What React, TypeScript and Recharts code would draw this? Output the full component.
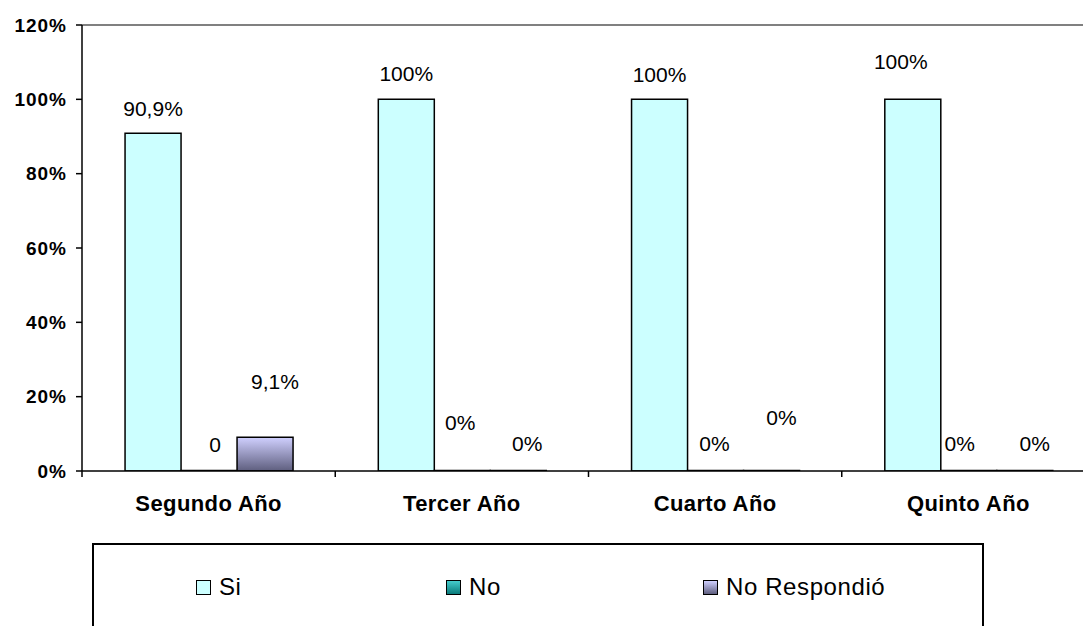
import React from "react";
import {
  BarChart,
  Bar,
  XAxis,
  YAxis,
  Legend,
  LabelList,
  ReferenceLine,
} from "recharts";

const CATEGORIES = ["Segundo Año", "Tercer Año", "Cuarto Año", "Quinto Año"];
const SI_VALUES = [90.9, 100, 100, 100];
const NO_VALUES = [0, 0, 0, 0];
const NR_VALUES = [9.1, 0, 0, 0];
const SI_LABELS = ["90,9%", "100%", "100%", "100%"];
const NO_LABELS = ["0", "0%", "0%", "0%"];
const NR_LABELS = ["9,1%", "0%", "0%", "0%"];
const Y_TICKS = [0, 20, 40, 60, 80, 100, 120];
const SERIES_NAMES = ["Si", "No", "No Respondió"];

// label nudges (style only): [dx, dy] from the bar top-centre
const SI_NUDGE = [[0, -25], [0, -25.5], [0, -25], [-12, -37.5]];
const NO_NUDGE = [[6, -26.5], [-2, -49], [-1, -28], [-9, -28]];
const NR_NUDGE = [[10, -56], [9, -28], [10, -54], [10, -28]];

const FONT = "'Liberation Sans', Arial, sans-serif";

const data = CATEGORIES.map((c, i) => ({
  name: c,
  si: SI_VALUES[i],
  no: NO_VALUES[i],
  nr: NR_VALUES[i],
}));

const makeLabel = (texts: string[], nudges: number[][]) => (props: any) => {
  const { x, y, width, height, index } = props;
  const n = nudges[index] || [0, 0];
  // anchor at the top of the bar (for zero bars: the baseline)
  const top = Number(height) < 2 ? Number(y) + Number(height) : Number(y);
  return (
    <text
      x={Number(x) + Number(width) / 2 + n[0]}
      y={top + n[1]}
      dy="0.358em"
      textAnchor="middle"
      fontFamily={FONT}
      fontSize={21}
      fill="#000"
    >
      {texts[index]}
    </text>
  );
};

const XTick = (props: any) => {
  const { x, y, payload, width, visibleTicksCount, index } = props;
  const band = Number(width) / Number(visibleTicksCount || CATEGORIES.length);
  const half = band / 2;
  return (
    <g>
      <line x1={x - half} x2={x - half} y1={y} y2={y + 6} stroke="#000" strokeWidth={1.5} />
      {index === visibleTicksCount - 1 ? (
        <line x1={x + half} x2={x + half} y1={y} y2={y + 6} stroke="#000" strokeWidth={1.5} />
      ) : null}
      <text
        x={x}
        y={y + 40}
        textAnchor="middle"
        fontFamily={FONT}
        fontSize={22}
        fontWeight="bold"
        letterSpacing={0.4}
        fill="#000"
      >
        {payload.value}
      </text>
    </g>
  );
};

const SWATCHES = [
  { bg: "#CCFFFF" },
  { bg: "linear-gradient(#44cccc, #0a7a7a)" },
  { bg: "linear-gradient(#d0d0ff, #5e5e7e)" },
];
const LEGEND_LEFT = [102, 352, 609];

const renderLegend = () => (
  <div
    style={{
      position: "relative",
      width: 892,
      height: 120,
      border: "2px solid #000",
      boxSizing: "border-box",
      background: "#fff",
    }}
  >
    {SERIES_NAMES.map((name, i) => (
      <div
        key={name}
        style={{
          position: "absolute",
          left: LEGEND_LEFT[i],
          top: 30,
          height: 24,
          display: "flex",
          alignItems: "center",
          gap: 8,
          fontFamily: FONT,
          fontSize: 24,
          lineHeight: "24px",
          letterSpacing: 0.6,
          color: "#000",
          whiteSpace: "nowrap",
        }}
      >
        <span
          style={{
            display: "inline-block",
            width: 15,
            height: 15,
            boxSizing: "border-box",
            border: "1.5px solid #000",
            background: SWATCHES[i].bg,
          }}
        />
        <span>{name}</span>
      </div>
    ))}
  </div>
);

export default function App() {
  return (
    <div
      style={{
        position: "fixed",
        left: 0,
        top: 0,
        width: 1083,
        height: 626,
        overflow: "hidden",
        background: "#fff",
      }}
    >
      <BarChart
        width={1100}
        height={626}
        data={data}
        margin={{ top: 25, right: 5, left: 0, bottom: 0 }}
        barCategoryGap="17%"
        barGap={0}
      >
        <defs>
          <linearGradient id="nrGrad" x1="0" y1="0" x2="0" y2="1">
            <stop offset="0%" stopColor="#d0d0ff" />
            <stop offset="100%" stopColor="#5e5e7e" />
          </linearGradient>
          <linearGradient id="noGrad" x1="0" y1="0" x2="0" y2="1">
            <stop offset="0%" stopColor="#44cccc" />
            <stop offset="100%" stopColor="#0a7a7a" />
          </linearGradient>
        </defs>
        <XAxis
          xAxisId="cat"
          dataKey="name"
          type="category"
          interval={0}
          tick={<XTick />}
          tickLine={false}
          tickSize={0}
          tickMargin={0}
          axisLine={{ stroke: "#000", strokeWidth: 1.5 }}
          height={155}
        />
        <YAxis
          domain={[0, 120]}
          ticks={Y_TICKS}
          interval={0}
          allowDataOverflow
          tickFormatter={(v: number) => `${v}%`}
          width={82}
          tickSize={6}
          tickMargin={9}
          tickLine={{ stroke: "#000", strokeWidth: 1.5 }}
          axisLine={{ stroke: "#000", strokeWidth: 1.5 }}
          tick={{
            fill: "#000",
            fontSize: 19,
            fontWeight: "bold",
            fontFamily: FONT,
            letterSpacing: 1,
          }}
        />
        <ReferenceLine xAxisId="cat" y={120} stroke="#808080" strokeWidth={2} />
        <Bar
          xAxisId="cat"
          dataKey="si"
          name={SERIES_NAMES[0]}
          fill="#CCFFFF"
          stroke="#000"
          strokeWidth={1.5}
          minPointSize={0.5}
          isAnimationActive={false}
        >
          <LabelList dataKey="si" content={makeLabel(SI_LABELS, SI_NUDGE)} />
        </Bar>
        <Bar
          xAxisId="cat"
          dataKey="no"
          name={SERIES_NAMES[1]}
          fill="url(#noGrad)"
          stroke="#000"
          strokeWidth={1.5}
          minPointSize={0.5}
          isAnimationActive={false}
        >
          <LabelList dataKey="no" content={makeLabel(NO_LABELS, NO_NUDGE)} />
        </Bar>
        <Bar
          xAxisId="cat"
          dataKey="nr"
          name={SERIES_NAMES[2]}
          fill="url(#nrGrad)"
          stroke="#000"
          strokeWidth={1.5}
          minPointSize={0.5}
          isAnimationActive={false}
        >
          <LabelList dataKey="nr" content={makeLabel(NR_LABELS, NR_NUDGE)} />
        </Bar>
        <Legend
          layout="vertical"
          align="center"
          verticalAlign="middle"
          wrapperStyle={{ top: 543, left: 92, width: 892, height: 120 }}
          content={renderLegend}
        />
      </BarChart>
    </div>
  );
}
